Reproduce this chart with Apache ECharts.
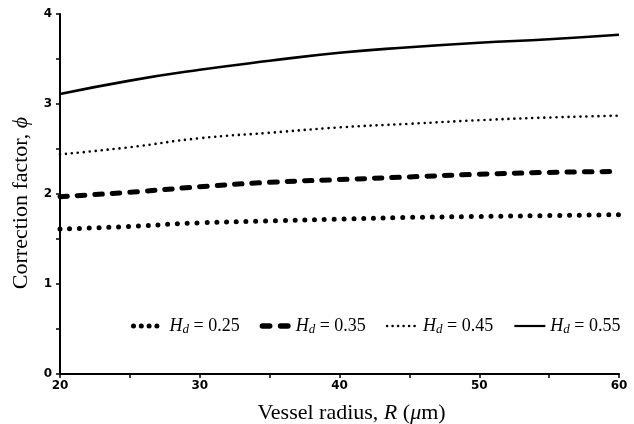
<!DOCTYPE html>
<html><head><meta charset="utf-8">
<script src="https://cdn.jsdelivr.net/npm/echarts@6/dist/echarts.min.js"></script>
<style>html,body{margin:0;padding:0;background:#fff}#c{width:634px;height:424px}</style>
</head><body><div id="c"></div>
<script>
const radius = [20, 25, 30, 35, 40, 45, 50, 55, 60];
const hd025 = [1.61, 1.64, 1.68, 1.70, 1.72, 1.74, 1.75, 1.76, 1.77];
const hd035 = [1.97, 2.02, 2.08, 2.13, 2.16, 2.19, 2.22, 2.24, 2.25];
const hd045 = [2.44, 2.52, 2.62, 2.68, 2.74, 2.78, 2.82, 2.85, 2.87];
const hd055 = [3.11, 3.26, 3.38, 3.48, 3.57, 3.63, 3.68, 3.72, 3.77];
const legendValues = ['0.25', '0.35', '0.45', '0.55'];
const seriesNames = legendValues.map(v => 'Hd = ' + v);

function pairs(vals) { return radius.map((r, i) => [r, vals[i]]); }

const chart = echarts.init(document.getElementById('c'), null, {renderer: 'canvas'});
const serif = 'Liberation Serif';
const styles = [
  {width: 5, type: [0, 9.8], cap: 'round'},
  {width: 5, type: [7.5, 10], cap: 'round'},
  {width: 2.6, type: [0, 6], cap: 'round'},
  {width: 2.6, type: 'solid', cap: 'butt'}
];
const legendStyles = [
  {width: 5, type: [0, 7.8], cap: 'round'},
  {width: 5, type: [7.5, 11.5], cap: 'round'},
  {width: 2.6, type: [0, 5.5], cap: 'round'},
  {width: 2.2, type: 'solid', cap: 'butt'}
];
const dashIcon = 'path://M2.5,0h7a2.5,2.5 0 0 1 0,5h-7a2.5,2.5 0 0 1 0,-5z M19.5,0h7a2.5,2.5 0 0 1 0,5h-7a2.5,2.5 0 0 1 0,-5z';
const dataSets = [hd025, hd035, hd045, hd055];

chart.setOption({
  animation: false,
  grid: {left: 60, right: 15, top: 14, bottom: 50, containLabel: false, outerBoundsMode: 'none'},
  legend: {
    left: 131, top: 317, padding: 0,
    itemWidth: 31, itemHeight: 14, itemGap: 20,
    itemStyle: {opacity: 0},
    data: seriesNames.map((n, i) => (i === 1 ? {
      name: n,
      icon: dashIcon,
      itemStyle: {opacity: 1, color: '#000', borderWidth: 0}
    } : {
      name: n,
      lineStyle: {color: '#000', width: legendStyles[i].width, type: legendStyles[i].type, cap: legendStyles[i].cap}
    })),
    formatter: name => '{i|H}{s|d}{n| = ' + name.split('= ')[1] + '}',
    textStyle: {
      fontFamily: serif, fontSize: 18, color: '#000',
      rich: {
        i: {fontFamily: serif, fontStyle: 'italic', fontSize: 18, color: '#000'},
        s: {fontFamily: serif, fontStyle: 'italic', fontSize: 13, color: '#000', verticalAlign: 'bottom', padding: [7, 0, 0, 0]},
        n: {fontFamily: serif, fontSize: 18, color: '#000'}
      }
    }
  },
  xAxis: {
    type: 'value', min: 20, max: 60, interval: 5,
    name: '{t|Vessel radius, }{i|R}{t| (}{i|μ}{t|m)}',
    nameLocation: 'middle', nameGap: 28,
    nameTextStyle: {
      padding: [0, 0, 0, 24],
      rich: {
        t: {fontFamily: serif, fontSize: 22, color: '#000'},
        i: {fontFamily: serif, fontSize: 22, fontStyle: 'italic', color: '#000'}
      }
    },
    axisLine: {lineStyle: {color: '#000', width: 2}},
    axisTick: {show: true, length: 4, inside: false, lineStyle: {color: '#000', width: 1.5}},
    axisLabel: {
      formatter: v => (v % 10 === 0 ? String(v) : ''),
      color: '#000', fontFamily: 'DejaVu Sans', fontWeight: 'bold', fontSize: 12, margin: 6
    },
    splitLine: {show: false}
  },
  yAxis: {
    type: 'value', min: 0, max: 4, interval: 0.5,
    name: '{t|Correction factor, }{i|ϕ}',
    nameLocation: 'middle', nameGap: 28,
    nameTextStyle: {
      padding: [0, 18, 0, 0],
      rich: {
        t: {fontFamily: serif, fontSize: 22, color: '#000'},
        i: {fontFamily: serif, fontSize: 22, fontStyle: 'italic', color: '#000'}
      }
    },
    axisLine: {show: true, lineStyle: {color: '#000', width: 2}},
    axisTick: {show: true, length: 4, inside: false, lineStyle: {color: '#000', width: 1.5}},
    axisLabel: {
      formatter: v => (v % 1 === 0 ? String(v) : ''),
      color: '#000', fontFamily: 'DejaVu Sans', fontWeight: 'bold', fontSize: 12, margin: 8
    },
    splitLine: {show: false}
  },
  series: dataSets.map((d, i) => ({
    name: seriesNames[i],
    type: 'line',
    data: pairs(d),
    smooth: true,
    symbol: 'none',
    lineStyle: {color: '#000', width: styles[i].width, type: styles[i].type, cap: styles[i].cap},
    itemStyle: {color: '#000'}
  }))
});
</script>
</body></html>
